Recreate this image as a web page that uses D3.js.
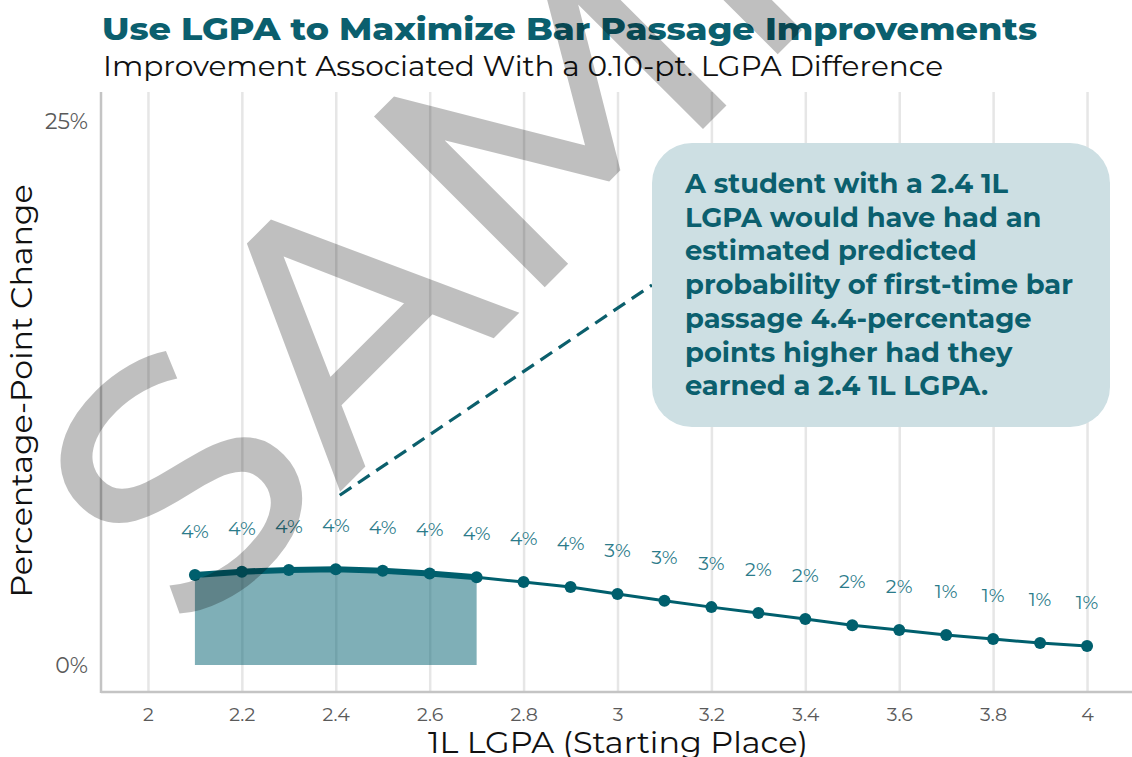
<!DOCTYPE html>
<html>
<head>
<meta charset="utf-8">
<script src="https://cdn.jsdelivr.net/npm/d3@7"></script>
<style>
  body { margin: 0; background: #fff; }
  svg { display: block; }
  text { font-family: Montserrat, "Open Sans", sans-serif; }
</style>
</head>
<body>
<div id="chart"></div>
<script>
// 1L LGPA (starting place) and the estimated percentage-point change for a 0.10 gain
var gpa    = [2.1, 2.2, 2.3, 2.4, 2.5, 2.6, 2.7, 2.8, 2.9, 3.0,
              3.1, 3.2, 3.3, 3.4, 3.5, 3.6, 3.7, 3.8, 3.9, 4.0];
var change = [4.14, 4.29, 4.37, 4.40, 4.33, 4.21, 4.03, 3.81, 3.58, 3.26,
              2.95, 2.66, 2.39, 2.11, 1.83, 1.61, 1.38, 1.19, 1.01, 0.87];

// highlighted starting range
var highlightRange = [2.1, 2.7];

var xTicks = [2, 2.2, 2.4, 2.6, 2.8, 3, 3.2, 3.4, 3.6, 3.8, 4];
var yTicks = [0, 25];

var titleText    = "Use LGPA to Maximize Bar Passage Improvements";
var subtitleText = "Improvement Associated With a 0.10-pt. LGPA Difference";
var xTitle = "1L LGPA (Starting Place)";
var yTitle = "Percentage-Point Change";

var noteLines = [
  "A student with a 2.4 1L",
  "LGPA would have had an",
  "estimated predicted",
  "probability of first-time bar",
  "passage 4.4-percentage",
  "points higher had they",
  "earned a 2.4 1L LGPA."
];
var noteAnchor = {gpa: 2.4, value: 7.8};

var width = 1132, height = 757;
var plotTop = 92, plotBottom = 692, plotLeft = 101;

var teal = "#005f6d";

var svg = d3.select("#chart").append("svg")
  .attr("width", width)
  .attr("height", height);

// Scales
var x = d3.scaleLinear().domain([1.9, 4.1]).range([plotLeft, 1134]);
var y = d3.scaleLinear().domain([0, 25]).range([665, 121]);

// Grid + x tick labels
var xAxis = svg.append("g")
  .attr("class", "x-axis")
  .attr("transform", "translate(0," + plotBottom + ")")
  .call(d3.axisBottom(x)
    .tickValues(xTicks)
    .tickSize(-(plotBottom - plotTop))
    .tickPadding(15.5)
    .tickFormat(function(d){ return String(d); }));
xAxis.select(".domain").remove();
xAxis.selectAll(".tick line").attr("stroke", "#e6e6e6").attr("stroke-width", 2.5);
xAxis.selectAll(".tick text")
  .attr("fill", "#5a5a5a")
  .style("font-size", "19px");

var yAxis = svg.append("g")
  .attr("class", "y-axis")
  .attr("transform", "translate(" + plotLeft + ",0)")
  .call(d3.axisLeft(y)
    .tickValues(yTicks)
    .tickSize(0)
    .tickPadding(13)
    .tickFormat(function(d){ return d + "%"; }));
yAxis.select(".domain").remove();
yAxis.selectAll(".tick text")
  .attr("fill", "#5a5a5a")
  .style("font-size", "22px");

// axis lines
svg.append("line")
  .attr("x1", plotLeft).attr("x2", plotLeft)
  .attr("y1", plotTop).attr("y2", plotBottom + 1)
  .attr("stroke", "#c4c4c4").attr("stroke-width", 2.5);
svg.append("line")
  .attr("x1", plotLeft).attr("x2", width)
  .attr("y1", plotBottom).attr("y2", plotBottom)
  .attr("stroke", "#c4c4c4").attr("stroke-width", 2.5);

var pts = gpa.map(function(g, i){ return {gpa: g, value: change[i]}; });
var hiPts = pts.filter(function(d){
  return d.gpa >= highlightRange[0] - 1e-9 && d.gpa <= highlightRange[1] + 1e-9;
});

// shaded area
svg.append("path")
  .datum(hiPts)
  .attr("fill", "#006070")
  .attr("fill-opacity", 0.5)
  .attr("d", d3.area()
    .x(function(d){ return x(d.gpa); })
    .y0(y(0))
    .y1(function(d){ return y(d.value); }));

var line = d3.line()
  .x(function(d){ return x(d.gpa); })
  .y(function(d){ return y(d.value); });

svg.append("path")
  .datum(pts)
  .attr("fill", "none")
  .attr("stroke", teal)
  .attr("stroke-width", 3)
  .attr("d", line);

svg.append("path")
  .datum(hiPts)
  .attr("fill", "none")
  .attr("stroke", teal)
  .attr("stroke-width", 6)
  .attr("stroke-linejoin", "round")
  .attr("d", line);

svg.selectAll("circle.pt")
  .data(pts)
  .enter().append("circle")
  .attr("class", "pt")
  .attr("cx", function(d){ return x(d.gpa); })
  .attr("cy", function(d){ return y(d.value); })
  .attr("r", 6)
  .attr("fill", teal);

svg.selectAll("text.val")
  .data(pts)
  .enter().append("text")
  .attr("class", "val")
  .attr("x", function(d){ return x(d.gpa); })
  .attr("y", function(d){ return y(d.value) - 37; })
  .attr("text-anchor", "middle")
  .attr("fill", "#2b7b8a")
  .style("font-size", "19px")
  .text(function(d){ return Math.round(d.value) + "%"; });

// annotation box
var box = {x: 652, y: 143, w: 458, h: 284};

svg.append("line")
  .attr("x1", x(noteAnchor.gpa) + 4)
  .attr("y1", y(noteAnchor.value))
  .attr("x2", box.x)
  .attr("y2", 285)
  .attr("stroke", "#0b5f6c")
  .attr("stroke-width", 3.2)
  .attr("stroke-dasharray", "14,8");

svg.append("rect")
  .attr("x", box.x).attr("y", box.y)
  .attr("width", box.w).attr("height", box.h)
  .attr("rx", 40).attr("ry", 40)
  .attr("fill", "#cddfe3");

var note = svg.append("g");
var noteText = note.selectAll("text")
  .data(noteLines)
  .enter().append("text")
  .attr("x", box.x + 33)
  .attr("y", function(d, i){ return 193 + i * 33.7; })
  .attr("fill", "#0b5f6e")
  .style("font-weight", 700)
  .style("font-size", "25px")
  .text(function(d){ return d; });
// fit widest line to the box
var widest = d3.max(noteText.nodes(), function(n){ return n.getComputedTextLength(); });
noteText.style("font-size", (25 * 388 / widest) + "px");

// titles
svg.append("text")
  .attr("x", 102).attr("y", 40)
  .attr("fill", "#0b5f6e")
  .style("font-weight", 800)
  .style("font-size", "31px")
  .attr("textLength", 935)
  .attr("lengthAdjust", "spacingAndGlyphs")
  .text(titleText);

svg.append("text")
  .attr("x", 103).attr("y", 76)
  .attr("fill", "#111")
  .style("font-size", "28px")
  .attr("textLength", 840)
  .attr("lengthAdjust", "spacingAndGlyphs")
  .text(subtitleText);

svg.append("text")
  .attr("x", 618).attr("y", 753)
  .attr("text-anchor", "middle")
  .attr("fill", "#111")
  .style("font-size", "29px")
  .attr("textLength", 380)
  .attr("lengthAdjust", "spacingAndGlyphs")
  .text(xTitle);

svg.append("text")
  .attr("transform", "translate(32,391) rotate(-90)")
  .attr("text-anchor", "middle")
  .attr("fill", "#111")
  .style("font-size", "29px")
  .attr("textLength", 413)
  .attr("lengthAdjust", "spacingAndGlyphs")
  .text(yTitle);

// SAMPLE watermark
svg.append("text")
  .attr("transform", "translate(189,643) rotate(-45)")
  .attr("fill", "#000")
  .attr("fill-opacity", 0.25)
  .style("font-weight", 500)
  .style("font-size", "345px")
  .text("SAMPLE");
</script>
</body>
</html>
